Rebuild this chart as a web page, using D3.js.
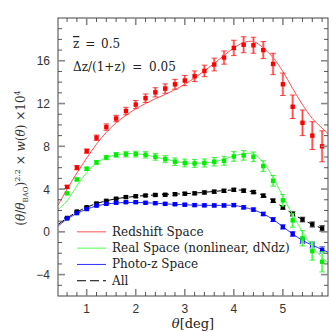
<!DOCTYPE html>
<html>
<head>
<meta charset="utf-8">
<script src="https://cdn.jsdelivr.net/npm/d3@7"></script>
<style>
  body { margin: 0; background: #fff; }
  text { font-family: "DejaVu Serif", "Liberation Serif", serif; }
  .tick-label { font-family: "Liberation Sans", Arial, sans-serif; font-size: 12px; fill: #333; }
</style>
</head>
<body>
<div id="chart"></div>
<script>
// measured points, theta in deg
const theta = [0.6, 0.8, 1.0, 1.2, 1.4, 1.6, 1.8, 2.0, 2.2, 2.4, 2.6, 2.8, 3.0, 3.2, 3.4, 3.6, 3.8, 4.0, 4.2, 4.4, 4.6, 4.8, 5.0, 5.2, 5.4, 5.6, 5.8];
const redshiftPts = [4.2, 6.0, 7.55, 8.8, 9.8, 10.6, 11.3, 11.9, 12.5, 13.05, 13.4, 13.8, 14.15, 14.55, 15.05, 15.65, 16.3, 17.2, 17.5, 17.45, 17.0, 15.7, 13.8, 11.7, 10.2, 9.0, 8.0];
const redshiftErr = [0.15, 0.2, 0.2, 0.25, 0.3, 0.3, 0.35, 0.38, 0.4, 0.43, 0.44, 0.46, 0.48, 0.5, 0.54, 0.6, 0.62, 0.72, 0.75, 0.75, 0.8, 1.0, 1.05, 1.1, 1.2, 1.3, 1.45];
const realPts = [3.6, 4.9, 5.9, 6.5, 6.95, 7.2, 7.25, 7.27, 7.2, 7.02, 6.8, 6.56, 6.44, 6.4, 6.44, 6.56, 6.65, 7.05, 7.15, 7.02, 6.15, 4.77, 2.95, 1.08, -0.6, -1.8, -2.8];
const realErr = [0.1, 0.12, 0.15, 0.18, 0.2, 0.22, 0.25, 0.27, 0.3, 0.32, 0.33, 0.35, 0.36, 0.37, 0.38, 0.4, 0.42, 0.45, 0.45, 0.45, 0.5, 0.5, 0.55, 0.65, 0.72, 0.85, 0.95];
const photozPts = [1.25, 1.75, 2.13, 2.45, 2.62, 2.72, 2.77, 2.77, 2.72, 2.68, 2.62, 2.58, 2.54, 2.5, 2.48, 2.47, 2.47, 2.5, 2.29, 2.08, 1.67, 1.15, 0.46, -0.2, -0.83, -1.23, -1.7];
const photozErr = [0.06, 0.07, 0.08, 0.08, 0.09, 0.09, 0.1, 0.1, 0.1, 0.11, 0.11, 0.12, 0.12, 0.12, 0.13, 0.13, 0.14, 0.14, 0.15, 0.15, 0.16, 0.18, 0.2, 0.22, 0.25, 0.27, 0.3];
const allPts = [1.3, 1.9, 2.3, 2.65, 2.9, 3.1, 3.25, 3.33, 3.4, 3.45, 3.47, 3.52, 3.57, 3.6, 3.68, 3.76, 3.84, 3.93, 3.85, 3.72, 3.38, 2.91, 2.29, 1.67, 1.15, 0.69, 0.32];
const allErr = [0.05, 0.06, 0.07, 0.08, 0.08, 0.09, 0.1, 0.1, 0.1, 0.11, 0.11, 0.12, 0.12, 0.12, 0.13, 0.13, 0.14, 0.14, 0.15, 0.15, 0.16, 0.17, 0.18, 0.2, 0.22, 0.24, 0.26];

// model curves
const modelTheta = [0.42, 0.6, 0.8, 1.0, 1.2, 1.4, 1.6, 1.8, 2.0, 2.2, 2.4, 2.6, 2.8, 3.0, 3.2, 3.4, 3.6, 3.8, 4.0, 4.2, 4.4, 4.6, 4.8, 5.0, 5.2, 5.4, 5.6, 5.8, 5.92];
const redshiftModel = [2.5, 4.0, 5.5, 6.9, 8.2, 9.3, 10.2, 10.9, 11.5, 12.0, 12.45, 12.85, 13.3, 13.8, 14.4, 15.05, 15.75, 16.5, 17.2, 17.7, 17.8, 17.2, 16.3, 15.0, 13.4, 11.9, 10.6, 9.7, 9.2];
const realModel = [2.1, 2.9, 4.3, 5.55, 6.45, 6.95, 7.2, 7.3, 7.3, 7.2, 7.0, 6.8, 6.6, 6.45, 6.4, 6.45, 6.55, 6.8, 7.1, 7.3, 7.3, 6.5, 5.1, 3.3, 1.6, 0.0, -1.4, -2.4, -2.9];
const photozModel = [0.55, 1.2, 1.72, 2.12, 2.42, 2.6, 2.7, 2.75, 2.75, 2.72, 2.68, 2.62, 2.57, 2.53, 2.5, 2.48, 2.47, 2.48, 2.48, 2.3, 2.06, 1.68, 1.15, 0.48, -0.2, -0.8, -1.25, -1.65, -1.9];
const allModel = [0.7, 1.3, 1.85, 2.3, 2.65, 2.9, 3.1, 3.22, 3.32, 3.4, 3.45, 3.5, 3.53, 3.57, 3.62, 3.7, 3.78, 3.86, 3.92, 3.88, 3.72, 3.4, 2.92, 2.3, 1.68, 1.15, 0.7, 0.32, 0.12];

const xTicks = [1, 2, 3, 4, 5];
const yTicks = [-4, 0, 4, 8, 12, 16];
const legendLabels = ["Redshift Space", "Real Space (nonlinear, dNdz)", "Photo-z Space", "All"];

const W = 332, H = 332;
let margin = { top: 18, right: 4, bottom: 36, left: 58 },
    width = W - margin.left - margin.right,
    height = H - margin.top - margin.bottom;

const svg = d3.select("#chart").append("svg")
    .attr("width", W)
    .attr("height", H)
    .append("g")
    .attr("transform", `translate(${margin.left}, ${margin.top})`);

let x = d3.scaleLinear().domain([0.415, 5.92]).range([0, width]);
let y = d3.scaleLinear().domain([-6, 20]).range([height, 0]);

const series = [
    { pts: redshiftPts, err: redshiftErr, model: redshiftModel, pt: "#ff0000", bar: "#ffa0a0", line: "#ff5050", dash: null },
    { pts: realPts, err: realErr, model: realModel, pt: "#00ee00", bar: "#a0ffa0", line: "#50ff50", dash: null },
    { pts: photozPts, err: photozErr, model: photozModel, pt: "#0000ff", bar: "#a0a0ff", line: "#3030ff", dash: null },
    { pts: allPts, err: allErr, model: allModel, pt: "#000000", bar: "#aaaaaa", line: "#000000", dash: "7,4" }
];

// clip
svg.append("defs").append("clipPath")
    .attr("id", "plot-clip")
    .append("rect")
    .attr("width", width)
    .attr("height", height);

const plot = svg.append("g").attr("clip-path", "url(#plot-clip)");

let line = d3.line()
    .x((d, i) => x(modelTheta[i]))
    .y(d => y(d))
    .curve(d3.curveCatmullRom);

// draw in reverse so red ends on top
series.slice().reverse().forEach(s => {
    plot.append("path")
        .attr("d", line(s.model))
        .attr("fill", "none")
        .attr("stroke", s.line)
        .attr("stroke-width", 1)
        .attr("stroke-dasharray", s.dash);

    let g = plot.append("g");
    let rows = s.pts.map((v, i) => ({ t: theta[i], v: v, e: s.err[i] }));

    // soft wide bar + thin bar + caps
    g.selectAll(".eb-soft").data(rows).enter().append("line")
        .attr("x1", d => x(d.t)).attr("x2", d => x(d.t))
        .attr("y1", d => y(d.v - d.e)).attr("y2", d => y(d.v + d.e))
        .attr("stroke", s.bar).attr("stroke-width", 2.5);
    g.selectAll(".eb").data(rows).enter().append("line")
        .attr("x1", d => x(d.t)).attr("x2", d => x(d.t))
        .attr("y1", d => y(d.v - d.e)).attr("y2", d => y(d.v + d.e))
        .attr("stroke", s.pt).attr("stroke-width", 0.6);
    [-1, 1].forEach(sign => {
        g.selectAll(".cap").data(rows).enter().append("line")
            .attr("x1", d => x(d.t) - 2.8).attr("x2", d => x(d.t) + 2.8)
            .attr("y1", d => y(d.v + sign * d.e)).attr("y2", d => y(d.v + sign * d.e))
            .attr("stroke", s.pt).attr("stroke-width", 0.7);
    });

    g.selectAll(".pt").data(rows).enter().append("rect")
        .attr("x", d => x(d.t) - 2.2)
        .attr("y", d => y(d.v) - 2.2)
        .attr("width", 4.4)
        .attr("height", 4.4)
        .attr("fill", s.pt);
});

// frame + ticks on all sides
const axisCol = "#444";
svg.append("rect")
    .attr("width", width).attr("height", height)
    .attr("fill", "none").attr("stroke", axisCol).attr("stroke-width", 1);

let xMinor = d3.range(0.6, 5.9, 0.2).map(v => Math.round(v * 10) / 10);
let yMinor = d3.range(-5, 20, 1);

function tickMarks(vals, isX, isMajor) {
    let len = isMajor ? 7 : 4;
    let col = isMajor ? "#888" : axisCol;
    let sw = isMajor ? 1.6 : 0.9;
    vals.forEach(v => {
        if (isX) {
            let px = x(v);
            svg.append("line").attr("x1", px).attr("x2", px).attr("y1", height).attr("y2", height - len)
                .attr("stroke", col).attr("stroke-width", sw);
            svg.append("line").attr("x1", px).attr("x2", px).attr("y1", 0).attr("y2", len)
                .attr("stroke", col).attr("stroke-width", sw);
        } else {
            let py = y(v);
            svg.append("line").attr("x1", 0).attr("x2", len).attr("y1", py).attr("y2", py)
                .attr("stroke", col).attr("stroke-width", sw);
            svg.append("line").attr("x1", width).attr("x2", width - len).attr("y1", py).attr("y2", py)
                .attr("stroke", col).attr("stroke-width", sw);
        }
    });
}
tickMarks(xMinor.filter(v => !xTicks.includes(v)), true, false);
tickMarks(xTicks, true, true);
tickMarks(yMinor.filter(v => !yTicks.includes(v)), false, false);
tickMarks(yTicks, false, true);

svg.selectAll(".xl").data(xTicks).enter().append("text")
    .attr("class", "tick-label")
    .attr("x", d => x(d)).attr("y", height + 17)
    .attr("text-anchor", "middle")
    .text(d => d);

svg.selectAll(".yl").data(yTicks).enter().append("text")
    .attr("class", "tick-label")
    .attr("x", -8).attr("y", d => y(d) + 4.5)
    .attr("text-anchor", "end")
    .text(d => d < 0 ? "\u2212" + Math.abs(d) : d);

// axis titles
svg.append("text")
    .attr("x", width / 2).attr("y", height + 32)
    .attr("text-anchor", "middle")
    .style("font-size", "13px").attr("fill", "#222")
    .html('<tspan font-style="italic">θ</tspan>[deg]');

let yt = svg.append("text")
    .attr("transform", `translate(-33, ${height / 2 + 1}) rotate(-90)`)
    .attr("text-anchor", "middle")
    .style("font-size", "12px").attr("fill", "#333");
yt.append("tspan").text("(");
yt.append("tspan").attr("font-style", "italic").text("θ");
yt.append("tspan").text("/");
yt.append("tspan").attr("font-style", "italic").text("θ");
yt.append("tspan").attr("font-size", "7px").attr("dy", 3).text("BAO");
yt.append("tspan").attr("dy", -3).text(")");
yt.append("tspan").attr("font-size", "8px").attr("dy", -5).text("2.2");
yt.append("tspan").attr("dy", 5).text(" × ");
yt.append("tspan").attr("font-style", "italic").text("w");
yt.append("tspan").text("(");
yt.append("tspan").attr("font-style", "italic").text("θ");
yt.append("tspan").text(") ×10");
yt.append("tspan").attr("font-size", "8px").attr("dy", -5).text("4");

// annotations
let a1 = svg.append("text")
    .attr("x", 15).attr("y", 30)
    .style("font-size", "12px").style("word-spacing", "2px").attr("fill", "#222");
a1.append("tspan").style("text-decoration", "overline").text("z");
a1.append("tspan").text(" = 0.5");
svg.append("text")
    .attr("x", 15).attr("y", 53)
    .style("font-size", "12px").style("word-spacing", "3px").attr("fill", "#222")
    .text("Δz/(1+z) = 0.05");

// legend
let lg = svg.append("g").attr("transform", `translate(19, ${y(0)})`);
legendLabels.forEach((lab, i) => {
    let s = series[i];
    lg.append("line")
        .attr("x1", 0).attr("x2", 29)
        .attr("y1", i * 16.3).attr("y2", i * 16.3)
        .attr("stroke", s.line)
        .attr("stroke-width", 1)
        .attr("stroke-dasharray", s.dash ? "9,4" : null);
    lg.append("text")
        .attr("x", 35).attr("y", i * 16.3 + 4)
        .style("font-size", "12px").attr("fill", "#222")
        .text(lab);
});
</script>
</body>
</html>
